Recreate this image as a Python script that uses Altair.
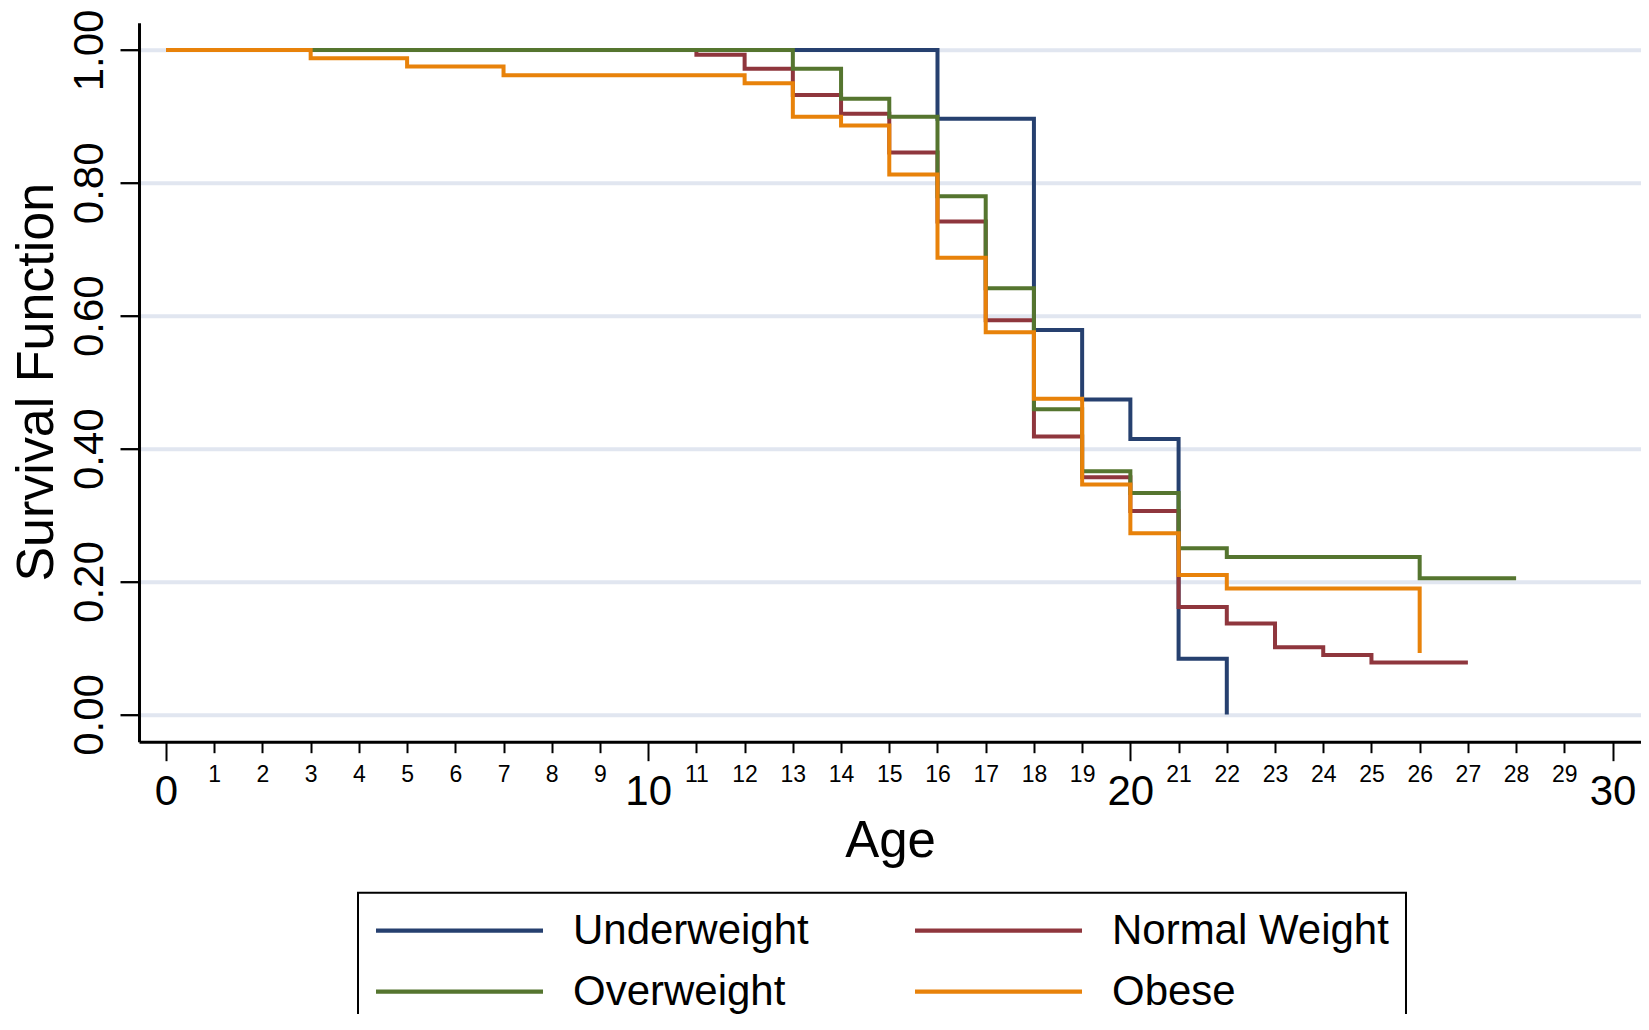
import altair as alt
import pandas as pd

FONT = "Liberation Sans"

groups = ["Underweight", "Normal Weight", "Overweight", "Obese"]
colors = ["#26406f", "#8f363d", "#55752f", "#e8820a"]
# legend entries are filled column by column: this order gives two rows
# (Underweight, Normal Weight) / (Overweight, Obese)
legend_order = ["Underweight", "Overweight", "Normal Weight", "Obese"]

underweight_age = [0, 16, 18, 19, 20, 21, 22]
underweight_surv = [1.0, 0.8965, 0.5787, 0.4738, 0.4147, 0.0838, 0.0]

normal_age = [0, 11, 12, 13, 14, 15, 16, 17, 18, 19, 20, 21, 22, 23, 24, 25, 27]
normal_surv = [1.0, 0.9927, 0.9716, 0.9322, 0.9038, 0.8455, 0.742, 0.5933,
               0.4184, 0.3571, 0.3061, 0.1618, 0.137, 0.1013, 0.0896, 0.078, 0.078]

overweight_age = [0, 13, 14, 15, 16, 17, 18, 19, 20, 21, 22, 26, 28]
overweight_surv = [1.0, 0.9716, 0.9264, 0.8994, 0.7799, 0.6414, 0.4592, 0.3659,
                   0.3331, 0.25, 0.2369, 0.2048, 0.2048]

obese_age = [0, 3, 5, 7, 12, 13, 14, 15, 16, 17, 18, 19, 20, 21, 22, 26]
obese_surv = [1.0, 0.9876, 0.9752, 0.9621, 0.9497, 0.8994, 0.8863, 0.8127,
              0.6873, 0.5751, 0.4752, 0.3462, 0.2726, 0.2099, 0.1895, 0.0926]

x_tick_values = list(range(0, 31))
y_tick_values = [0.0, 0.2, 0.4, 0.6, 0.8, 1.0]

series = [
    (groups[0], underweight_age, underweight_surv),
    (groups[1], normal_age, normal_surv),
    (groups[2], overweight_age, overweight_surv),
    (groups[3], obese_age, obese_surv),
]
rows = []
for g, ages, survs in series:
    for a, s in zip(ages, survs):
        rows.append({"group": g, "age": a, "surv": s})
df = pd.DataFrame(rows)

major = "datum.value % 10 === 0"

x_axis = alt.Axis(
    values=x_tick_values,
    format="d",
    title="Age",
    titleFont=FONT,
    titleFontSize=51,
    titleFontWeight="normal",
    titleColor="black",
    titleBaseline="alphabetic",
    titleY=115,
    labelFont=FONT,
    labelColor="black",
    labelFontSize={"condition": {"test": major, "value": 42}, "value": 23},
    tickSize={"condition": {"test": major, "value": 19}, "value": 11},
    labelPadding={"condition": {"test": major, "value": 31}, "value": 22},
    labelBaseline="middle",
    labelAlign="center",
    labelOverlap=False,
    labelFlush=False,
    grid=False,
    domainColor="black",
    domainWidth=3,
    tickColor="black",
    tickWidth=2,
)

y_axis = alt.Axis(
    values=y_tick_values,
    format=".2f",
    title="Survival Function",
    titleFont=FONT,
    titleFontSize=52,
    titleFontWeight="normal",
    titleColor="black",
    titleAngle=270,
    titleAlign="center",
    titleBaseline="alphabetic",
    titleX=-87,
    titleY=359,
    labelFont=FONT,
    labelFontSize=42,
    labelColor="black",
    labelAngle=270,
    labelAlign="center",
    labelBaseline="alphabetic",
    labelPadding=18,
    labelOverlap=False,
    labelFlush=False,
    tickSize=19,
    tickColor="black",
    tickWidth=2.3,
    domainColor="black",
    domainWidth=3,
    grid=True,
    gridColor="#e1e6f0",
    gridWidth=4,
)

legend = alt.Legend(
    title=None,
    orient="none",
    legendX=219,
    legendY=870,
    columns=2,
    values=legend_order,
    symbolType="M-2,0H14.7",
    symbolSize=400,
    symbolStrokeWidth=4.2,
    labelFont=FONT,
    labelFontSize=42,
    labelColor="black",
    labelLimit=0,
    labelOffset=156,
    columnPadding=97,
    rowPadding=19,
    padding=17,
    strokeColor="black",
)

chart = (
    alt.Chart(df)
    .mark_line(interpolate="step-after", strokeWidth=4)
    .encode(
        x=alt.X("age:Q", scale=alt.Scale(domain=[-0.56, 30.59], nice=False, zero=False), axis=x_axis),
        y=alt.Y("surv:Q", scale=alt.Scale(domain=[-0.041, 1.041], nice=False, zero=False), axis=y_axis),
        color=alt.Color("group:N", scale=alt.Scale(domain=groups, range=colors), legend=legend),
    )
    .properties(
        width=1502,
        height=719,
        autosize=alt.AutoSizeParams(type="none"),
        padding={"left": 131, "top": 14.7, "right": 0, "bottom": 272},
    )
    .configure_view(stroke=None)
    .configure_legend(strokeWidth=2)
)

chart.save("out.html", embed_options={"renderer": "svg", "actions": False})
